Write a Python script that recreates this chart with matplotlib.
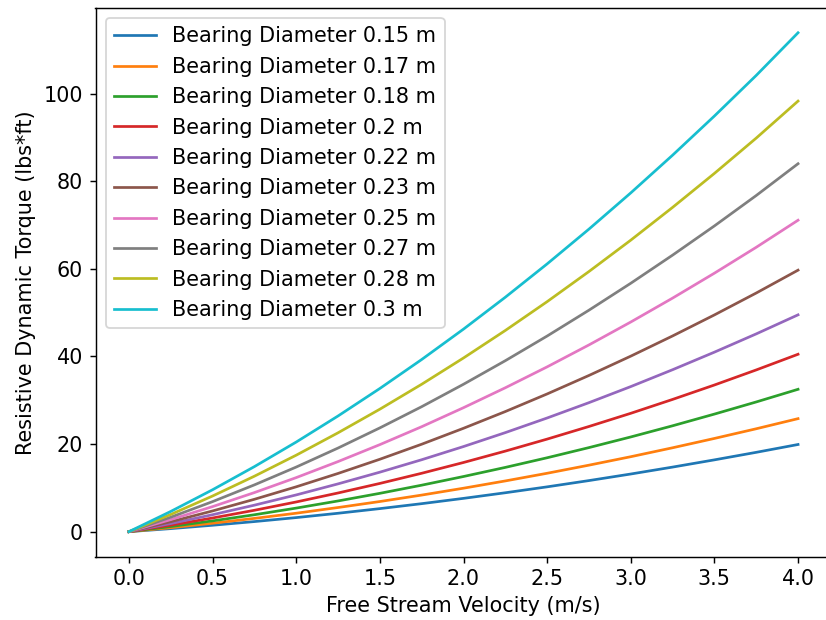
import matplotlib
matplotlib.use("Agg")
import matplotlib.pyplot as plt

velocity = [0.0, 0.25, 0.5, 0.75, 1.0, 1.25, 1.5, 1.75, 2.0,
            2.25, 2.5, 2.75, 3.0, 3.25, 3.5, 3.75, 4.0]
diameter_labels = ["0.15", "0.17", "0.18", "0.2", "0.22", "0.23", "0.25", "0.27", "0.28", "0.3"]

torque_015 = [0, 0.69, 1.46, 2.30, 3.21, 4.20, 5.26, 6.39, 7.60, 8.88, 10.23, 11.66, 13.16, 14.74, 16.39, 18.11, 19.9]
torque_017 = [0, 0.91, 1.92, 3.03, 4.21, 5.51, 6.88, 8.35, 9.92, 11.58, 13.33, 15.18, 17.11, 19.15, 21.28, 23.49, 25.8]
torque_018 = [0, 1.17, 2.46, 3.86, 5.38, 7.01, 8.75, 10.61, 12.59, 14.67, 16.87, 19.19, 21.62, 24.17, 26.84, 29.61, 32.5]
torque_020 = [0, 1.49, 3.12, 4.88, 6.78, 8.83, 11.01, 13.33, 15.79, 18.39, 21.13, 24.01, 27.02, 30.19, 33.48, 36.92, 40.5]
torque_022 = [0, 1.85, 3.87, 6.05, 8.39, 10.91, 13.58, 16.42, 19.43, 22.61, 25.95, 29.45, 33.12, 36.97, 40.98, 45.15, 49.5]
torque_023 = [0, 2.27, 4.73, 7.39, 10.24, 13.29, 16.53, 19.96, 23.60, 27.42, 31.44, 35.66, 40.07, 44.68, 49.48, 54.48, 59.7]
torque_025 = [0, 2.75, 5.72, 8.92, 12.34, 16.00, 19.87, 23.96, 28.30, 32.85, 37.62, 42.63, 47.86, 53.32, 59.01, 64.92, 71.1]
torque_027 = [0, 3.30, 6.86, 10.68, 14.75, 19.09, 23.69, 28.53, 33.65, 39.03, 44.66, 50.56, 56.71, 63.13, 69.80, 76.74, 84.0]
torque_028 = [0, 3.93, 8.14, 12.66, 17.46, 22.57, 27.96, 33.65, 39.65, 45.93, 52.51, 59.39, 66.55, 74.03, 81.79, 89.85, 98.3]
torque_030 = [0, 4.62, 9.57, 14.85, 20.46, 26.41, 32.69, 39.30, 46.24, 53.52, 61.13, 69.07, 77.34, 85.95, 94.89, 104.16, 113.9]

series = [torque_015, torque_017, torque_018, torque_020, torque_022,
          torque_023, torque_025, torque_027, torque_028, torque_030]

plt.rcParams["font.size"] = 11.5

DPI = 130
fig = plt.figure(figsize=(826 / DPI, 620 / DPI), dpi=DPI)
ax = fig.add_axes([95.5 / 826, 63.4 / 620, 736 / 826, 548.8 / 620])

for lab, ys in zip(diameter_labels, series):
    ax.plot(velocity, ys, label=f"Bearing Diameter {lab} m", linewidth=1.5)

ax.spines["right"].set_visible(False)
ax.set_xlabel("Free Stream Velocity (m/s)")
ax.set_ylabel("Resistive Dynamic Torque (lbs*ft)")
ax.legend(loc="upper left")

fig.savefig("out.png", dpi=DPI)
